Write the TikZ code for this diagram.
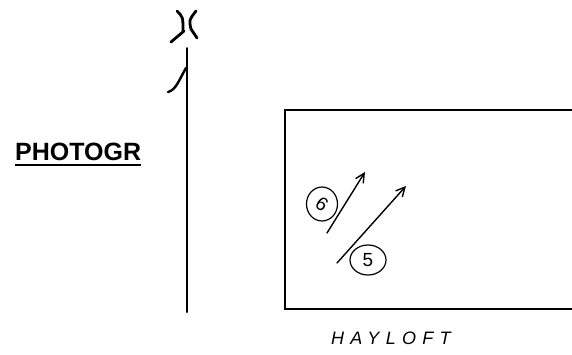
\documentclass[tikz,border=0pt]{standalone}
\usepackage{fontspec}
\setmainfont{Liberation Sans}
\usetikzlibrary{arrows.meta,shapes.geometric}

\tikzset{
  ink/.style={line width=1.6pt, line cap=round, line join=round},
  pen/.style={line width=1.4pt, line cap=round, -{Straight Barb[length=9pt,width=9pt,line width=1.4pt]}},
  ringmark/.style={draw, ellipse, line width=1.2pt, inner sep=0pt,
    font=\fontsize{19}{19}\selectfont}
}

\begin{document}
\begin{tikzpicture}[x=1pt,y=-1pt]
    \def\postx{187}
    \def\posttop{48}
    \def\postbot{312}

\useasboundingbox (0,0) rectangle (572,354);

% --------------------
% North mark
% --------------------
\draw[ink, line width=2.8pt] (177,11) .. controls (183,17) .. (183,31);
\draw[ink, line width=2.8pt] (171,42) .. controls (178,36) .. (184,31);
\draw[ink, line width=2.8pt] (196,11) .. controls (189,20) .. (191,29) -- (197,38);

% --------------------
% Post with hook
% --------------------
\coordinate (posttop) at (\postx,\posttop);
\coordinate (postbot) at (\postx,\postbot);
\draw[ink, line width=2pt] (posttop) -- (postbot);
\draw[ink, line width=2.4pt] (\postx-1,68) .. controls (179,80) and (176,90) .. (168,92);

% --------------------
% Title
% --------------------
\node[anchor=base west, inner sep=0pt, font=\fontsize{25}{25}\selectfont\bfseries]
  (photo) at (15,160) {PHOTOGR};
\draw[line width=2pt] ([yshift=-5pt]photo.base west) -- ([yshift=-5pt]photo.base east);

% --------------------
% Hayloft
% --------------------
\draw[line width=2pt] (572,110) -- (285,110) -- (285,309) -- (572,309);
\node[anchor=west, inner sep=0pt,
  font=\fontsize{18}{18}\selectfont\itshape\addfontfeature{LetterSpace=35}]
  (loft) at (331,338) {HAYLOFT};

% --------------------
% Arrows
% --------------------
\coordinate (sixfrom) at (327,233);
\coordinate (sixto) at (365,172);
\coordinate (fivefrom) at (337,263);
\coordinate (fiveto) at (406,186);
\draw[pen] (sixfrom) -- (sixto);
\draw[pen] (fivefrom) -- (fiveto);

\node[ringmark, minimum width=31pt, minimum height=34pt] (six) at (322,204) {\rotatebox{-35}{6}};
\node[ringmark, minimum width=36pt, minimum height=30pt] (five) at (368,260) {5};

\end{tikzpicture}
\end{document}
